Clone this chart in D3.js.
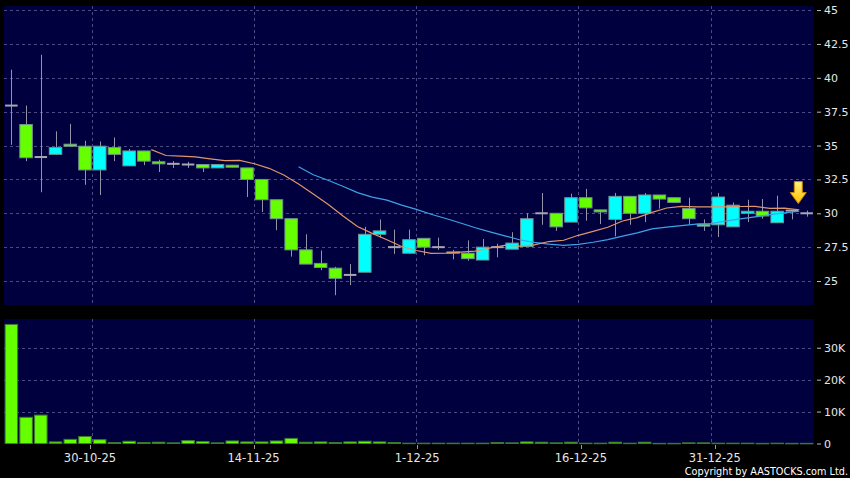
<!DOCTYPE html>
<html><head><meta charset="utf-8">
<script src="https://cdn.jsdelivr.net/npm/d3@7/dist/d3.min.js"></script>
<style>html,body{margin:0;padding:0;background:#000;} svg{display:block}</style>
</head><body><svg id="c" width="850" height="478"></svg>
<script>
// ---------- DATA ----------
const dates = [
 "21-10-25","22-10-25","23-10-25","24-10-25","27-10-25","28-10-25","30-10-25","31-10-25",
 "3-11-25","4-11-25","5-11-25","6-11-25","7-11-25","10-11-25","11-11-25","12-11-25","13-11-25","14-11-25",
 "17-11-25","18-11-25","19-11-25","20-11-25","21-11-25","24-11-25","25-11-25","26-11-25","27-11-25","28-11-25",
 "1-12-25","2-12-25","3-12-25","4-12-25","5-12-25","8-12-25","9-12-25","10-12-25","11-12-25","12-12-25","15-12-25",
 "16-12-25","17-12-25","18-12-25","19-12-25","22-12-25","23-12-25","24-12-25","29-12-25","30-12-25","31-12-25",
 "2-1-26","5-1-26","6-1-26","7-1-26","8-1-26","9-1-26"
];
const open  = [37.95,36.55,34.15,34.35,35.1,34.95,33.2,34.85,33.5,34.6,33.8,33.65,33.6,33.6,33.35,33.55,33.35,32.5,31.0,29.6,
 27.3,26.3,25.95,25.45,25.65,28.45,27.5,27.05,28.15,27.5,27.15,27.05,26.55,27.5,27.35,27.55,30.0,30.0,29.35,31.15,
 30.25,29.55,31.25,30.0,31.35,31.15,30.35,29.2,29.15,29.0,30.0,30.15,29.3,30.2,30.0];
const high  = [40.6,37.95,41.7,36.05,36.6,35.35,35.3,35.6,34.75,34.6,33.95,33.85,33.8,33.6,33.6,33.55,33.35,32.5,31.0,29.6,
 28.45,27.25,26.05,26.25,29.0,29.55,28.8,28.8,28.15,28.2,27.3,28.0,28.1,27.75,28.6,30.0,31.5,30.0,31.45,31.8,
 30.25,31.5,31.25,31.5,31.35,31.15,31.15,29.55,31.5,30.8,31.0,31.05,31.3,30.2,30.2];
const low   = [35.05,33.85,31.55,34.3,34.9,32.1,31.35,33.85,33.5,33.55,33.05,33.35,33.35,33.05,33.35,33.4,31.2,30.1,28.75,26.8,
 26.25,25.8,23.95,24.7,25.65,28.2,27.0,27.05,26.9,27.3,26.6,26.5,26.55,26.75,27.35,27.55,29.15,28.7,29.35,29.45,
 29.2,28.3,29.15,29.35,30.35,30.8,29.2,28.7,28.25,29.0,29.35,29.6,29.3,29.55,29.75];
const close = [37.95,34.1,34.15,34.85,34.95,33.2,34.95,34.35,34.6,33.85,33.65,33.65,33.6,33.35,33.6,33.4,32.5,31.0,29.6,27.3,
 26.25,26.0,25.2,25.45,28.45,28.7,27.5,28.05,27.5,27.5,27.05,26.65,27.5,27.5,27.8,29.6,30.0,29.0,31.15,30.4,
 30.1,31.25,30.0,31.35,31.05,30.8,29.6,29.05,31.2,30.6,30.15,29.8,30.15,30.2,30.0];
const volume = [37300,8200,8900,500,1300,2200,1200,300,700,300,400,200,900,600,200,800,500,500,800,1600,
 400,500,300,500,700,500,300,100,100,100,100,100,100,300,200,500,400,200,400,100,
 100,400,100,400,50,50,200,200,100,100,100,50,100,50,50];
// 10-day and 20-day moving averages, first value at the index given
const ma10Start = 9;
const ma10 = [34.695,34.265,34.22,34.165,34.015,33.88,33.9,33.655,33.32,32.82,32.165,31.425,30.66,29.82,29.03,28.515,28.045,
 27.545,27.25,27.04,27.06,27.14,27.205,27.435,27.64,27.575,27.665,27.915,28.01,28.375,28.665,28.97,29.43,29.68,30.065,
 30.39,30.51,30.47,30.475,30.48,30.5,30.505,30.36,30.375,30.26];
const ma20Start = 19;
const ma20 = [33.43,32.845,32.44,31.993,31.523,31.198,30.973,30.6,30.285,29.93,29.613,29.283,28.933,28.628,28.335,28.045,
 27.855,27.73,27.63,27.708,27.863,28.055,28.318,28.558,28.853,28.983,29.088,29.193,29.243,29.428,29.583,29.738,29.895,
 30.028,30.163];
const priceTicks = [25,27.5,30,32.5,35,37.5,40,42.5,45];
const volTicks = [0,10000,20000,30000];
const volTickLabels = ["0","10K","20K","30K"];
const dateTicks = ["30-10-25","14-11-25","1-12-25","16-12-25","31-12-25"];
const markerIndex = 53;

// ---------- LAYOUT ----------
const L = 4, R = 814, pT = 6, pB = 305, vT = 319, vB = 444;
const svg = d3.select("#c");
const FONT = "'DejaVu Sans', Verdana, sans-serif";
const x = d3.scaleBand().domain(dates).range([L, R]).padding(0);
const step = x.step(), bw = step * 0.85;
const cx = d => x(d) + step / 2;
const y = d3.scaleLinear().domain([23.23, 45.3]).range([pB, pT]);
const yv = d3.scaleLinear().domain([0, 39000]).range([443.5, vT]);
const xl = d3.scaleLinear().domain([0, dates.length]).range([0.7, 818.9]);

const defs = svg.append("defs");
const gr = defs.append("linearGradient").attr("id","arr").attr("x1",0).attr("x2",0).attr("y1",0).attr("y2",1);
gr.append("stop").attr("offset","0%").attr("stop-color","#fff27a");
gr.append("stop").attr("offset","100%").attr("stop-color","#ffbf00");

svg.append("rect").attr("width",850).attr("height",478).attr("fill","#000");
svg.append("rect").attr("x",L).attr("y",pT).attr("width",R-L).attr("height",pB-pT).attr("fill","#00003e");
svg.append("rect").attr("x",L).attr("y",vT).attr("width",R-L).attr("height",vB-vT).attr("fill","#00003e");

const grid = svg.append("g").attr("stroke","#4a4a82").attr("stroke-width",1).attr("stroke-dasharray","3,3").attr("shape-rendering","crispEdges");
grid.selectAll(".hp").data(priceTicks).join("line")
  .attr("x1",L).attr("x2",R).attr("y1",d=>Math.round(y(d))+0.5).attr("y2",d=>Math.round(y(d))+0.5);
grid.selectAll(".hv").data(volTicks.slice(1)).join("line").attr("class","hv")
  .attr("x1",L).attr("x2",R).attr("y1",d=>Math.round(yv(d))+0.5).attr("y2",d=>Math.round(yv(d))+0.5);
dateTicks.forEach(d => {
  const gx = Math.round(x(d)) + 0.5;
  grid.append("line").attr("x1",gx).attr("x2",gx).attr("y1",pT).attr("y2",pB);
  grid.append("line").attr("x1",gx).attr("x2",gx).attr("y1",vT).attr("y2",vB);
});

// ---------- CANDLES ----------
const idx = d3.range(dates.length);
const cg = svg.append("g");
cg.selectAll(".w").data(idx).join("line")
  .attr("x1",i=>Math.round(cx(dates[i]))+0.5).attr("x2",i=>Math.round(cx(dates[i]))+0.5)
  .attr("y1",i=>y(high[i])).attr("y2",i=>y(low[i]))
  .attr("stroke","#9494a8").attr("stroke-width",1);
cg.selectAll(".b").data(idx.filter(i=>open[i]!==close[i])).join("rect")
  .attr("x",i=>cx(dates[i])-bw/2).attr("width",bw)
  .attr("y",i=>y(Math.max(open[i],close[i])))
  .attr("height",i=>Math.max(1,Math.abs(y(open[i])-y(close[i]))))
  .attr("fill",i=>close[i]>open[i] ? "#00ffff" : "#66ff00")
  .attr("stroke","#6f9492").attr("stroke-width",1);
cg.selectAll(".dj").data(idx.filter(i=>open[i]===close[i])).join("line")
  .attr("x1",i=>cx(dates[i])-bw/2).attr("x2",i=>cx(dates[i])+bw/2)
  .attr("y1",i=>y(close[i])).attr("y2",i=>y(close[i]))
  .attr("stroke","#a8a8b4").attr("stroke-width",2);

// ---------- MOVING AVERAGES ----------
const lineX = i => x(dates[i]) + step;
const mkLine = (arr, start) => d3.line().x((v,k)=>lineX(start+k)).y(v=>y(v))(arr);
svg.append("path").attr("d",mkLine(ma20,ma20Start)).attr("fill","none").attr("stroke","#3ba3e6").attr("stroke-width",1.2);
svg.append("path").attr("d",mkLine(ma10,ma10Start)).attr("fill","none").attr("stroke","#e0956a").attr("stroke-width",1.2);

// ---------- ARROW ----------
{
  const ax = lineX(markerIndex) - 1, tip = y(close[markerIndex]) - 7, top = tip - 22;
  const p = `M${ax-4},${top} L${ax+4},${top} L${ax+4},${top+11} L${ax+8},${top+11} L${ax},${tip} L${ax-8},${top+11} L${ax-4},${top+11} Z`;
  svg.append("path").attr("d",p).attr("fill","url(#arr)").attr("stroke","#c98a00").attr("stroke-width",1);
}

// ---------- VOLUME ----------
svg.append("g").selectAll("rect").data(idx).join("rect")
  .attr("x",i=>cx(dates[i])-bw/2).attr("width",bw)
  .attr("y",i=>yv(volume[i])).attr("height",i=>Math.max(0.5,yv(0)-yv(volume[i])))
  .attr("fill","#66ff00").attr("stroke","#3a7a2c").attr("stroke-width",1);

// ---------- AXES ----------
const ay = svg.append("g").attr("transform",`translate(${R+3},0)`)
  .call(d3.axisRight(y).tickValues(priceTicks).tickSize(4).tickPadding(3).tickFormat(d=>String(d)));
const avv = svg.append("g").attr("transform",`translate(${R+3},0)`)
  .call(d3.axisRight(yv).tickValues(volTicks).tickSize(4).tickPadding(3).tickFormat((d,k)=>volTickLabels[k]));
[ay,avv].forEach(g=>{
  g.select(".domain").remove();
  g.selectAll("line").attr("stroke","#bbbbbb");
  g.selectAll("text").attr("fill","#e6e6e6").style("font-family",FONT).style("font-size","11px");
});
const xa = svg.append("g");
dateTicks.forEach(d=>{
  const tx = xl(dates.indexOf(d));
  xa.append("line").attr("x1",Math.round(tx)+0.5).attr("x2",Math.round(tx)+0.5).attr("y1",445).attr("y2",449).attr("stroke","#999");
  xa.append("text").attr("x",tx).attr("y",462).attr("text-anchor","middle")
    .attr("fill","#e6e6e6").style("font-family",FONT).style("font-size","11.5px").text(d);
});
svg.append("text").attr("x",848).attr("y",475).attr("text-anchor","end")
  .attr("fill","#ffffff").style("font-family",FONT).style("font-size","9.7px")
  .text("Copyright by AASTOCKS.com Ltd.");
</script>
</body></html>
